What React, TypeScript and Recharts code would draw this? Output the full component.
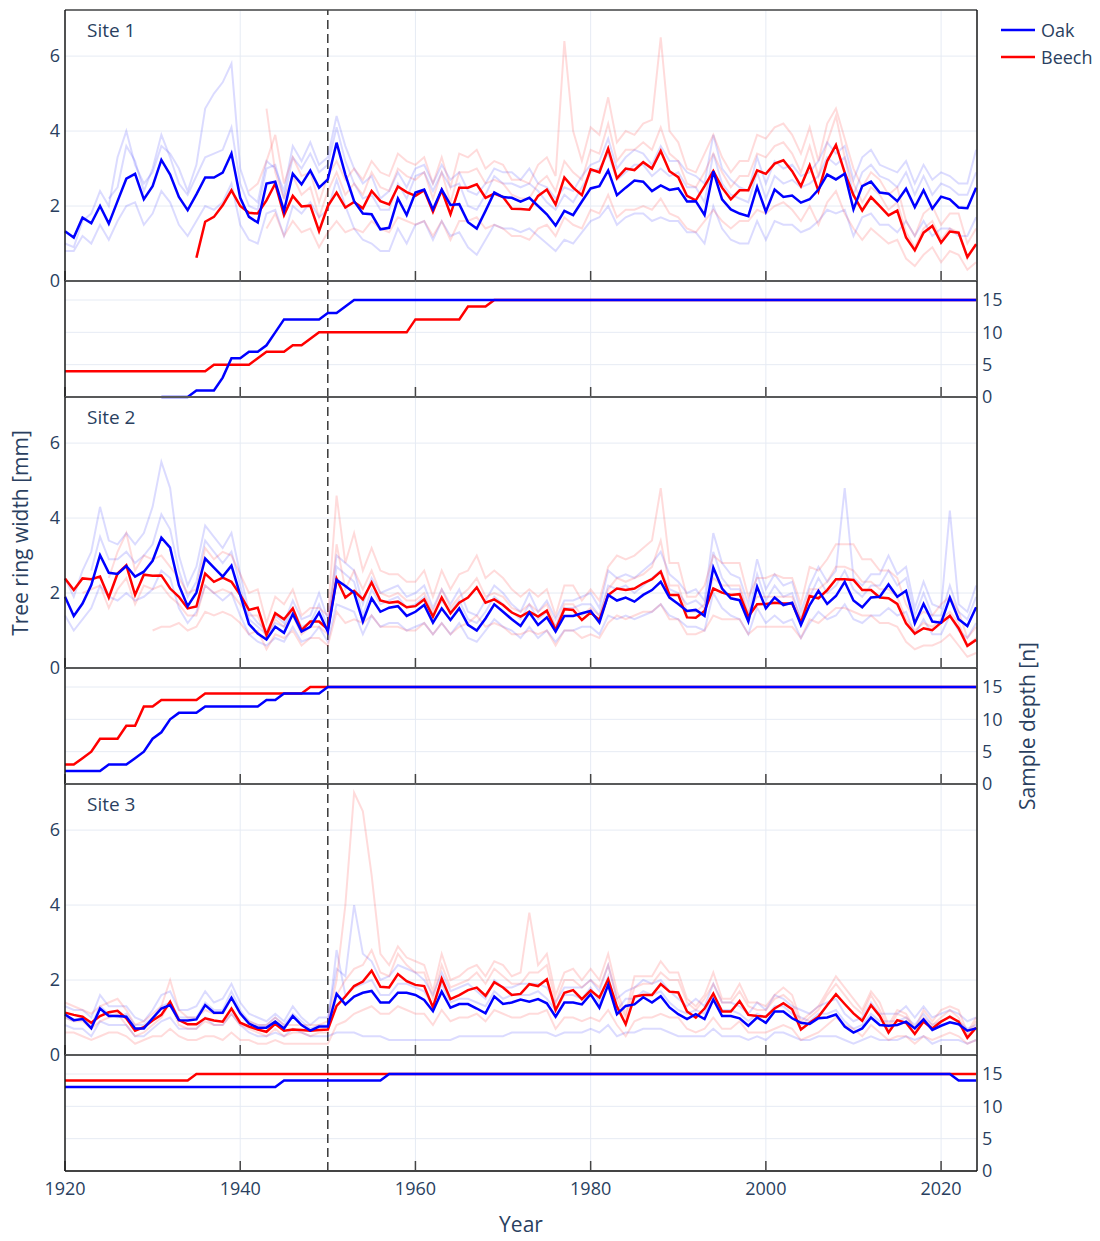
import React from "react";
import { LineChart, Line, XAxis, YAxis, CartesianGrid, ReferenceLine } from "recharts";

const N = null;

// ---------- categories / ticks ----------
const YEARS: number[] = [];
for (let y = 1920; y <= 2024; y++) YEARS.push(y);
const X_TICKS = [1920, 1940, 1960, 1980, 2000, 2020];
const RING_TICKS = [0, 2, 4, 6];
const DEPTH_TICKS = [0, 5, 10, 15];
const SPECIES = ["Oak", "Beech"];
const SITES = ["Site 1", "Site 2", "Site 3"];

// ---------- Site 1 ----------
const S1_OAK = [
  1.33, 1.16, 1.69, 1.54, 2.0, 1.53, 2.13, 2.73, 2.86, 2.18,
  2.53, 3.23, 2.84, 2.24, 1.89, 2.31, 2.76, 2.76, 2.89, 3.4,
  2.22, 1.71, 1.56, 2.6, 2.65, 1.87, 2.86, 2.58, 2.95, 2.49,
  2.71, 3.69, 2.84, 2.13, 1.8, 1.78, 1.38, 1.42, 2.2, 1.76,
  2.36, 2.44, 1.91, 2.44, 2.03, 2.05, 1.57, 1.4, 1.87, 2.36,
  2.24, 2.22, 2.12, 2.22, 2.0, 1.78, 1.48, 1.87, 1.76, 2.12,
  2.47, 2.53, 2.95, 2.29, 2.49, 2.68, 2.65, 2.4, 2.55, 2.43,
  2.47, 2.12, 2.13, 1.76, 2.93, 2.18, 1.91, 1.8, 1.73, 2.51,
  1.85, 2.44, 2.24, 2.28, 2.09, 2.18, 2.44, 2.84, 2.71, 2.86,
  1.91, 2.53, 2.65, 2.36, 2.33, 2.13, 2.46, 1.97, 2.42, 1.93,
  2.25, 2.18, 1.96, 1.94, 2.49,
];
const S1_BEECH = [
  N, N, N, N, N, N, N, N, N, N,
  N, N, N, N, N, 0.62, 1.58, 1.71, 2.02, 2.42,
  2.0, 1.82, 1.8, 2.15, 2.6, 1.76, 2.27, 1.99, 2.01, 1.33,
  2.0, 2.36, 1.96, 2.11, 1.94, 2.4, 2.13, 2.04, 2.52, 2.37,
  2.27, 2.42, 1.85, 2.42, 1.78, 2.49, 2.49, 2.58, 2.22, 2.33,
  2.24, 1.93, 1.92, 1.9, 2.27, 2.44, 2.04, 2.76, 2.49, 2.29,
  2.98, 2.9, 3.53, 2.74, 3.0, 2.96, 3.17, 3.0, 3.47, 2.93,
  2.77, 2.27, 2.15, 2.53, 2.93, 2.49, 2.18, 2.42, 2.42, 2.95,
  2.86, 3.13, 3.22, 2.93, 2.53, 3.09, 2.4, 3.2, 3.63, 2.89,
  2.29, 1.88, 2.24, 2.0, 1.75, 1.88, 1.16, 0.82, 1.29, 1.47,
  1.02, 1.32, 1.29, 0.64, 0.98,
];
const S1_OAK_T1 = [
  1.0, 0.9, 1.6, 1.8, 2.4, 2.0, 3.3, 4.0, 3.1, 2.6,
  2.9, 3.6, 3.4, 3.0, 2.4, 3.1, 4.6, 5.0, 5.3, 5.8,
  3.0, 2.3, 2.1, 3.2, 3.0, 2.4, 3.6, 3.2, 3.7, 3.1,
  3.3, 4.4, 3.6, 3.0, 2.6, 2.8, 2.2, 2.4, 2.9, 2.5,
  3.0, 3.1, 2.6, 3.1, 2.7, 2.9, 2.4, 2.3, 2.6, 3.0,
  2.9, 2.9, 2.7, 3.0, 2.6, 2.5, 2.2, 2.5, 2.4, 2.8,
  3.1, 3.2, 3.8, 3.0, 3.3, 3.5, 3.4, 3.1, 3.6, 3.2,
  3.2, 2.9, 2.8, 2.6, 3.9, 3.0, 2.7, 2.5, 2.4, 3.3,
  2.6, 3.2, 3.0, 3.1, 2.8, 2.9, 3.2, 3.7, 3.4, 3.6,
  2.7, 3.3, 3.5, 3.1, 3.0, 2.9, 3.2, 2.6, 3.1, 2.7,
  2.9, 2.8, 2.6, 2.6, 3.5,
];
const S1_OAK_T2 = [
  0.8, 0.8, 1.2, 1.0, 1.5, 1.1, 1.6, 2.0, 2.1, 1.5,
  1.8, 2.4, 2.1, 1.5, 1.2, 1.6, 2.0, 1.9, 2.1, 2.6,
  1.5, 1.1, 1.0, 1.8, 1.9, 1.2, 2.0, 1.8, 2.1, 1.7,
  1.9, 2.7, 2.0, 1.4, 1.1, 1.0, 0.8, 0.8, 1.4, 1.0,
  1.5, 1.6, 1.1, 1.6, 1.2, 1.3, 0.9, 0.7, 1.1, 1.5,
  1.4, 1.4, 1.3, 1.4, 1.2, 1.0, 0.8, 1.1, 1.0, 1.3,
  1.6, 1.7, 2.0, 1.5, 1.7, 1.8, 1.8, 1.6, 1.7, 1.6,
  1.6, 1.3, 1.3, 1.0, 2.0, 1.4, 1.1, 1.0, 1.0, 1.6,
  1.1, 1.6, 1.5, 1.5, 1.3, 1.4, 1.6, 1.9, 1.8, 1.9,
  1.2, 1.7, 1.8, 1.5, 1.5, 1.3, 1.6, 1.2, 1.6, 1.2,
  1.4, 1.4, 1.2, 1.2, 1.7,
];
const S1_OAK_T3 = [
  N, N, N, N, N, 2.2, 2.5, 3.6, 3.2, 2.4,
  3.0, 3.9, 3.3, 2.6, 2.3, 2.8, 3.3, 3.4, 3.5, 4.1,
  2.6, 2.0, 1.9, 3.0, 3.1, 2.2, 3.3, 3.0, 3.4, 2.9,
  3.1, 4.1, 3.2, 2.6, 2.2, 2.3, 1.9, 1.9, 2.6, 2.2,
  2.8, 2.9, 2.4, 2.9, 2.5, 2.6, 2.0, 1.9, 2.3, 2.8,
  2.6, 2.6, 2.5, 2.6, 2.4, 2.1, 1.9, 2.3, 2.1, 2.5,
  2.9, 3.0, 3.4, 2.7, 2.9, 3.1, 3.1, 2.8, 3.0, 2.8,
  2.9, 2.5, 2.5, 2.1, 3.4, 2.6, 2.3, 2.2, 2.1, 2.9,
  2.2, 2.8, 2.6, 2.7, 2.5, 2.6, 2.8, 3.3, 3.1, 3.3,
  2.3, 2.9, 3.1, 2.8, 2.7, 2.5, 2.9, 2.3, 2.8, 2.3,
  2.6, 2.5, 2.3, 2.3, 2.9,
];
const S1_BEECH_T1 = [
  N, N, N, N, N, N, N, N, N, N,
  N, N, N, N, N, N, N, N, N, N,
  N, 2.4, 2.6, 3.2, 3.9, 2.6, 3.3, 2.8, 2.9, 2.1,
  2.8, 3.2, 2.7, 3.0, 2.7, 3.2, 2.9, 2.8, 3.4, 3.2,
  3.1, 3.3, 2.6, 3.3, 2.5, 3.4, 3.3, 3.5, 3.0, 3.2,
  3.1, 2.7, 2.7, 2.6, 3.1, 3.3, 2.8, 6.4, 4.0, 3.2,
  4.1, 3.9, 4.9, 3.7, 4.0, 3.9, 4.2, 4.3, 6.5, 4.0,
  3.7, 3.0, 2.9, 3.4, 3.9, 3.3, 2.9, 3.2, 3.2, 3.9,
  3.8, 4.1, 4.2, 3.9, 3.4, 4.1, 3.2, 4.2, 4.6, 3.8,
  3.0, 2.5, 2.9, 2.7, 2.3, 2.5, 1.6, 1.2, 1.8, 2.0,
  1.5, 1.8, 1.8, 1.0, 1.4,
];
const S1_BEECH_T2 = [
  N, N, N, N, N, N, N, N, N, N,
  N, N, N, N, N, N, N, N, N, N,
  N, N, N, 1.4, 1.8, 1.2, 1.6, 1.3, 1.4, 0.9,
  1.3, 1.6, 1.3, 1.4, 1.3, 1.6, 1.4, 1.3, 1.7, 1.6,
  1.5, 1.6, 1.2, 1.6, 1.1, 1.6, 1.6, 1.7, 1.4, 1.5,
  1.4, 1.2, 1.2, 1.1, 1.4, 1.5, 1.2, 1.7, 1.5, 1.4,
  1.9, 1.8, 2.3, 1.7, 1.9, 1.9, 2.0, 1.9, 2.2, 1.8,
  1.7, 1.4, 1.3, 1.6, 1.9, 1.6, 1.4, 1.6, 1.6, 1.9,
  1.8, 2.0, 2.1, 1.9, 1.6, 2.0, 1.5, 2.1, 2.4, 1.8,
  1.4, 1.1, 1.4, 1.2, 1.0, 1.1, 0.6, 0.4, 0.7, 0.9,
  0.5, 0.8, 0.7, 0.3, 0.5,
];
const S1_BEECH_T3 = [
  N, N, N, N, N, N, N, N, N, N,
  N, N, N, N, N, N, N, N, N, N,
  N, N, N, 4.6, 2.9, 2.2, 2.8, 2.3, 2.5, 1.7,
  2.4, 2.9, 2.3, 2.6, 2.3, 2.9, 2.5, 2.4, 3.0, 2.8,
  2.7, 2.9, 2.2, 2.9, 2.1, 2.9, 2.9, 3.0, 2.6, 2.7,
  2.6, 2.3, 2.2, 2.2, 2.6, 2.8, 2.4, 3.2, 2.9, 2.7,
  3.5, 3.4, 4.2, 3.2, 3.5, 3.5, 3.7, 3.5, 4.1, 3.4,
  3.2, 2.6, 2.5, 2.9, 3.4, 2.9, 2.5, 2.8, 2.8, 3.4,
  3.3, 3.6, 3.7, 3.4, 2.9, 3.6, 2.8, 3.7, 4.4, 3.3,
  2.6, 2.1, 2.5, 2.3, 1.9, 2.1, 1.3, 0.9, 1.4, 1.6,
  1.1, 1.4, 1.3, 0.6, 1.0,
];
const S1_OAK_DEPTH = [
  N, N, N, N, N, N, N, N, N, N,
  N, 0, 0, 0, 0, 1, 1, 1, 3, 6,
  6, 7, 7, 8, 10, 12, 12, 12, 12, 12,
  13, 13, 14, 15, 15, 15, 15, 15, 15, 15,
  15, 15, 15, 15, 15, 15, 15, 15, 15, 15,
  15, 15, 15, 15, 15, 15, 15, 15, 15, 15,
  15, 15, 15, 15, 15, 15, 15, 15, 15, 15,
  15, 15, 15, 15, 15, 15, 15, 15, 15, 15,
  15, 15, 15, 15, 15, 15, 15, 15, 15, 15,
  15, 15, 15, 15, 15, 15, 15, 15, 15, 15,
  15, 15, 15, 15, 15,
];
const S1_BEECH_DEPTH = [
  4, 4, 4, 4, 4, 4, 4, 4, 4, 4,
  4, 4, 4, 4, 4, 4, 4, 5, 5, 5,
  5, 5, 6, 7, 7, 7, 8, 8, 9, 10,
  10, 10, 10, 10, 10, 10, 10, 10, 10, 10,
  12, 12, 12, 12, 12, 12, 14, 14, 14, 15,
  15, 15, 15, 15, 15, 15, 15, 15, 15, 15,
  15, 15, 15, 15, 15, 15, 15, 15, 15, 15,
  15, 15, 15, 15, 15, 15, 15, 15, 15, 15,
  15, 15, 15, 15, 15, 15, 15, 15, 15, 15,
  15, 15, 15, 15, 15, 15, 15, 15, 15, 15,
  15, 15, 15, 15, 15,
];

// ---------- Site 2 ----------
const S2_OAK = [
  1.9, 1.39, 1.72, 2.21, 3.01, 2.54, 2.51, 2.72, 2.44, 2.57,
  2.86, 3.48, 3.21, 2.21, 1.65, 2.01, 2.92, 2.68, 2.44, 2.73,
  1.95, 1.17, 0.92, 0.76, 1.1, 0.94, 1.44, 0.97, 1.1, 1.48,
  0.97, 2.35, 2.19, 2.01, 1.24, 1.86, 1.5, 1.61, 1.65, 1.39,
  1.5, 1.68, 1.21, 1.59, 1.28, 1.59, 1.15, 1.0, 1.32, 1.7,
  1.5, 1.3, 1.12, 1.48, 1.15, 1.35, 0.97, 1.39, 1.39, 1.46,
  1.52, 1.21, 1.95, 1.8, 1.88, 1.77, 1.95, 2.08, 2.3, 1.88,
  1.71, 1.52, 1.55, 1.39, 2.68, 2.12, 1.86, 1.81, 1.24, 2.17,
  1.59, 1.88, 1.68, 1.74, 1.15, 1.68, 2.06, 1.71, 1.92, 2.3,
  1.8, 1.62, 1.88, 1.9, 2.23, 1.9, 2.06, 1.19, 1.71, 1.24,
  1.21, 1.88, 1.3, 1.12, 1.62,
];
const S2_BEECH = [
  2.39, 2.08, 2.39, 2.37, 2.44, 1.88, 2.52, 2.74, 1.95, 2.49,
  2.46, 2.47, 2.12, 1.9, 1.59, 1.64, 2.52, 2.3, 2.41, 2.3,
  1.95, 1.55, 1.61, 0.88, 1.46, 1.3, 1.59, 1.01, 1.24, 1.24,
  1.03, 2.38, 1.88, 2.06, 1.83, 2.28, 1.8, 1.74, 1.77, 1.62,
  1.65, 1.83, 1.37, 1.88, 1.46, 1.74, 1.88, 2.15, 1.74, 1.83,
  1.68, 1.48, 1.37, 1.5, 1.37, 1.53, 1.01, 1.57, 1.55, 1.28,
  1.48, 1.28, 1.95, 2.12, 2.08, 2.12, 2.26, 2.37, 2.57, 1.95,
  1.95, 1.35, 1.34, 1.52, 2.12, 2.01, 1.95, 1.97, 1.37, 1.7,
  1.71, 1.74, 1.72, 1.72, 1.21, 1.92, 1.86, 2.08, 2.37, 2.37,
  2.35, 2.08, 2.08, 1.88, 1.86, 1.71, 1.19, 0.92, 1.06, 1.01,
  1.21, 1.39, 1.06, 0.59, 0.75,
];
const S2_OAK_T1 = [
  2.4, 1.9, 2.6, 3.1, 4.3, 3.4, 3.3, 3.6, 3.3, 3.6,
  4.3, 5.5, 4.8, 3.0, 2.2, 2.7, 3.8, 3.5, 3.2, 3.6,
  2.5, 1.5, 1.2, 1.0, 1.4, 1.2, 1.8, 1.3, 1.4, 2.0,
  1.3, 3.0, 2.8, 2.6, 1.7, 2.4, 2.0, 2.1, 2.2, 1.9,
  2.0, 2.2, 1.6, 2.1, 1.7, 2.1, 1.5, 1.4, 1.8, 2.2,
  2.0, 1.7, 1.5, 2.0, 1.5, 1.8, 1.3, 1.8, 1.8, 1.9,
  2.0, 1.6, 2.6, 2.4, 2.5, 2.4, 2.6, 2.8, 3.1, 2.5,
  2.3, 2.0, 2.1, 1.8, 3.6, 2.8, 2.5, 2.4, 1.7, 2.9,
  2.1, 2.5, 2.2, 2.3, 1.5, 2.2, 2.7, 2.3, 2.6, 4.8,
  2.4, 2.2, 2.5, 2.5, 3.0, 2.5, 2.7, 1.6, 2.3, 1.7,
  1.6, 4.2, 1.7, 1.5, 2.2,
];
const S2_OAK_T2 = [
  1.4, 1.0, 1.3, 1.6, 2.2, 1.9, 1.8, 2.0, 1.8, 1.9,
  2.1, 2.6, 2.4, 1.6, 1.2, 1.5, 2.2, 2.0, 1.8, 2.0,
  1.4, 0.9, 0.7, 0.6, 0.8, 0.7, 1.1, 0.7, 0.8, 1.1,
  0.7, 1.7, 1.6, 1.5, 0.9, 1.4, 1.1, 1.2, 1.2, 1.0,
  1.1, 1.2, 0.9, 1.2, 0.9, 1.2, 0.8, 0.7, 1.0, 1.3,
  1.1, 1.0, 0.8, 1.1, 0.8, 1.0, 0.7, 1.0, 1.0, 1.1,
  1.1, 0.9, 1.4, 1.3, 1.4, 1.3, 1.4, 1.5, 1.7, 1.4,
  1.3, 1.1, 1.1, 1.0, 2.0, 1.6, 1.4, 1.3, 0.9, 1.6,
  1.2, 1.4, 1.2, 1.3, 0.8, 1.2, 1.5, 1.3, 1.4, 1.7,
  1.3, 1.2, 1.4, 1.4, 1.6, 1.4, 1.5, 0.9, 1.3, 0.9,
  0.9, 1.4, 1.0, 0.8, 1.2,
];
const S2_OAK_T3 = [
  N, N, N, 2.6, 3.5, 2.9, 2.9, 3.1, 2.8, 3.0,
  3.3, 4.1, 3.7, 2.6, 1.9, 2.3, 3.4, 3.1, 2.8, 3.1,
  2.2, 1.3, 1.1, 0.9, 1.2, 1.1, 1.6, 1.1, 1.2, 1.7,
  1.1, 2.7, 2.5, 2.3, 1.4, 2.1, 1.7, 1.8, 1.9, 1.6,
  1.7, 1.9, 1.4, 1.8, 1.5, 1.8, 1.3, 1.2, 1.5, 1.9,
  1.7, 1.5, 1.3, 1.7, 1.3, 1.5, 1.1, 1.6, 1.6, 1.7,
  1.7, 1.4, 2.2, 2.1, 2.2, 2.0, 2.2, 2.4, 2.6, 2.1,
  2.0, 1.7, 1.8, 1.6, 3.1, 2.4, 2.1, 2.1, 1.4, 2.5,
  1.8, 2.2, 1.9, 2.0, 1.3, 1.9, 2.4, 2.0, 2.2, 2.6,
  2.1, 1.9, 2.2, 2.2, 2.6, 2.2, 2.4, 1.4, 2.0, 1.4,
  1.4, 2.2, 1.5, 1.3, 1.9,
];
const S2_BEECH_T1 = [
  N, N, N, N, N, 2.4, 3.1, 3.6, 2.6, 3.0,
  2.9, 3.0, 2.7, 2.4, 2.0, 2.1, 3.2, 2.9, 3.1, 3.0,
  2.5, 2.0, 2.1, 1.2, 1.9, 1.7, 2.1, 1.4, 1.6, 1.6,
  1.4, 4.6, 2.8, 3.6, 2.6, 3.2, 2.6, 2.5, 2.5, 2.3,
  2.3, 2.6, 1.9, 2.6, 2.1, 2.5, 2.6, 3.0, 2.4, 2.6,
  2.4, 2.1, 1.9, 2.1, 1.9, 2.1, 1.4, 2.2, 2.2, 1.8,
  2.1, 1.8, 2.7, 3.0, 2.9, 3.0, 3.2, 3.4, 4.8, 2.8,
  2.8, 1.9, 1.9, 2.2, 3.0, 2.8, 2.8, 2.8, 1.9, 2.4,
  2.4, 2.5, 2.4, 2.4, 1.7, 2.7, 2.6, 2.9, 3.3, 3.3,
  3.3, 2.9, 2.9, 2.6, 2.6, 2.4, 1.7, 1.3, 1.5, 1.4,
  1.7, 1.9, 1.5, 0.8, 1.1,
];
const S2_BEECH_T2 = [
  N, N, N, N, N, N, N, N, N, N,
  1.0, 1.1, 1.1, 1.2, 1.0, 1.1, 1.5, 1.4, 1.5, 1.4,
  1.2, 0.9, 1.0, 0.5, 0.9, 0.8, 1.0, 0.6, 0.8, 0.8,
  0.6, 1.5, 1.2, 1.3, 1.2, 1.4, 1.1, 1.1, 1.1, 1.0,
  1.0, 1.2, 0.9, 1.2, 0.9, 1.1, 1.2, 1.4, 1.1, 1.2,
  1.1, 0.9, 0.9, 1.0, 0.9, 1.0, 0.6, 1.0, 1.0, 0.8,
  0.9, 0.8, 1.2, 1.4, 1.3, 1.4, 1.5, 1.5, 1.7, 1.3,
  1.3, 0.9, 0.9, 1.0, 1.4, 1.3, 1.3, 1.3, 0.9, 1.1,
  1.1, 1.1, 1.1, 1.1, 0.8, 1.3, 1.2, 1.4, 1.6, 1.6,
  1.5, 1.4, 1.4, 1.2, 1.2, 1.1, 0.7, 0.5, 0.6, 0.6,
  0.7, 0.9, 0.6, 0.3, 0.4,
];
const S2_BEECH_T3 = [
  N, N, 2.0, 2.1, 2.2, 1.6, 2.1, 2.4, 1.7, 2.2,
  2.1, 2.2, 1.9, 1.7, 1.4, 1.4, 2.2, 2.0, 2.1, 2.0,
  1.7, 1.4, 1.4, 0.8, 1.3, 1.1, 1.4, 0.9, 1.1, 1.1,
  0.9, 3.3, 2.1, 2.6, 2.1, 2.6, 2.0, 1.9, 2.0, 1.8,
  1.8, 2.0, 1.5, 2.1, 1.6, 1.9, 2.1, 2.4, 1.9, 2.0,
  1.9, 1.6, 1.5, 1.7, 1.5, 1.7, 1.1, 1.7, 1.7, 1.4,
  1.6, 1.4, 2.1, 2.4, 2.3, 2.4, 2.5, 2.7, 3.4, 2.2,
  2.2, 1.5, 1.5, 1.7, 2.4, 2.2, 2.2, 2.2, 1.5, 1.9,
  1.9, 1.9, 1.9, 1.9, 1.3, 2.1, 2.1, 2.3, 2.7, 2.7,
  2.6, 2.3, 2.3, 2.1, 2.1, 1.9, 1.3, 1.0, 1.2, 1.1,
  1.3, 1.5, 1.2, 0.6, 0.8,
];
const S2_OAK_DEPTH = [
  2, 2, 2, 2, 2, 3, 3, 3, 4, 5,
  7, 8, 10, 11, 11, 11, 12, 12, 12, 12,
  12, 12, 12, 13, 13, 14, 14, 14, 14, 14,
  15, 15, 15, 15, 15, 15, 15, 15, 15, 15,
  15, 15, 15, 15, 15, 15, 15, 15, 15, 15,
  15, 15, 15, 15, 15, 15, 15, 15, 15, 15,
  15, 15, 15, 15, 15, 15, 15, 15, 15, 15,
  15, 15, 15, 15, 15, 15, 15, 15, 15, 15,
  15, 15, 15, 15, 15, 15, 15, 15, 15, 15,
  15, 15, 15, 15, 15, 15, 15, 15, 15, 15,
  15, 15, 15, 15, 15,
];
const S2_BEECH_DEPTH = [
  3, 3, 4, 5, 7, 7, 7, 9, 9, 12,
  12, 13, 13, 13, 13, 13, 14, 14, 14, 14,
  14, 14, 14, 14, 14, 14, 14, 14, 15, 15,
  15, 15, 15, 15, 15, 15, 15, 15, 15, 15,
  15, 15, 15, 15, 15, 15, 15, 15, 15, 15,
  15, 15, 15, 15, 15, 15, 15, 15, 15, 15,
  15, 15, 15, 15, 15, 15, 15, 15, 15, 15,
  15, 15, 15, 15, 15, 15, 15, 15, 15, 15,
  15, 15, 15, 15, 15, 15, 15, 15, 15, 15,
  15, 15, 15, 15, 15, 15, 15, 15, 15, 15,
  15, 15, 15, 15, 15,
];

// ---------- Site 3 ----------
const S3_OAK = [
  1.08, 0.93, 0.96, 0.71, 1.24, 1.04, 1.04, 1.02, 0.71, 0.71,
  0.98, 1.24, 1.33, 0.93, 0.92, 0.95, 1.33, 1.13, 1.13, 1.53,
  1.11, 0.84, 0.73, 0.73, 0.89, 0.71, 1.04, 0.8, 0.65, 0.76,
  0.76, 1.63, 1.35, 1.56, 1.66, 1.71, 1.4, 1.4, 1.66, 1.66,
  1.6, 1.47, 1.17, 1.69, 1.26, 1.36, 1.36, 1.24, 1.11, 1.56,
  1.36, 1.4, 1.48, 1.42, 1.49, 1.38, 1.02, 1.4, 1.4, 1.35,
  1.62, 1.26, 1.87, 1.09, 1.31, 1.35, 1.54, 1.4, 1.57, 1.27,
  1.09, 0.96, 1.09, 0.96, 1.48, 1.04, 1.04, 0.98, 0.78, 1.0,
  0.86, 1.16, 1.16, 0.98, 0.86, 0.83, 0.98, 1.0, 1.08, 0.76,
  0.6, 0.71, 1.0, 0.8, 0.78, 0.8, 0.89, 0.71, 0.95, 0.67,
  0.78, 0.87, 0.82, 0.65, 0.71,
];
const S3_BEECH = [
  1.13, 1.07, 1.02, 0.86, 1.04, 1.14, 1.18, 0.98, 0.65, 0.74,
  0.92, 1.07, 1.42, 0.93, 0.82, 0.82, 0.98, 0.92, 0.89, 1.24,
  0.86, 0.76, 0.68, 0.62, 0.83, 0.65, 0.68, 0.67, 0.65, 0.67,
  0.68, 1.31, 1.56, 1.84, 1.96, 2.25, 1.82, 1.8, 2.16, 1.97,
  1.87, 1.84, 1.27, 2.04, 1.49, 1.6, 1.73, 1.8, 1.58, 1.94,
  1.8, 1.6, 1.63, 1.89, 1.84, 2.02, 1.2, 1.66, 1.73, 1.49,
  1.72, 1.53, 2.02, 1.29, 0.82, 1.56, 1.6, 1.6, 1.89, 1.69,
  1.67, 1.16, 1.0, 1.24, 1.64, 1.16, 1.16, 1.44, 1.07, 1.04,
  1.02, 1.24, 1.38, 1.22, 0.68, 0.86, 1.02, 1.33, 1.62, 1.36,
  1.11, 0.91, 1.33, 1.04, 0.6, 0.93, 0.86, 0.56, 0.89, 0.71,
  0.89, 1.02, 0.89, 0.46, 0.73,
];
const S3_OAK_T1 = [
  1.3, 1.2, 1.2, 1.0, 1.6, 1.3, 1.3, 1.3, 1.0, 0.9,
  1.2, 1.6, 1.7, 1.2, 1.2, 1.3, 1.7, 1.4, 1.5, 1.9,
  1.4, 1.1, 1.0, 0.9, 1.1, 0.9, 1.3, 1.0, 0.8, 1.0,
  1.0, 2.3, 2.1, 4.0, 2.7, 2.5, 2.0, 2.1, 2.4, 2.3,
  2.2, 2.0, 1.6, 2.2, 1.7, 1.8, 1.9, 1.7, 1.5, 2.0,
  1.8, 1.8, 1.9, 1.9, 1.9, 1.8, 1.4, 1.8, 1.8, 1.8,
  2.0, 1.7, 2.4, 1.5, 1.7, 1.8, 2.0, 1.9, 2.0, 1.7,
  1.5, 1.3, 1.5, 1.3, 1.9, 1.4, 1.4, 1.3, 1.1, 1.4,
  1.2, 1.6, 1.5, 1.3, 1.2, 1.1, 1.3, 1.4, 1.5, 1.1,
  0.9, 1.0, 1.4, 1.1, 1.1, 1.1, 1.3, 1.0, 1.3, 1.0,
  1.1, 1.2, 1.1, 0.9, 1.0,
];
const S3_OAK_T2 = [
  0.8, 0.7, 0.7, 0.5, 0.9, 0.8, 0.8, 0.8, 0.5, 0.5,
  0.7, 0.9, 1.0, 0.7, 0.7, 0.7, 1.0, 0.8, 0.8, 1.1,
  0.8, 0.6, 0.5, 0.5, 0.6, 0.5, 0.7, 0.6, 0.5, 0.5,
  0.5, 0.6, 0.6, 0.6, 0.5, 0.5, 0.5, 0.4, 0.4, 0.4,
  0.4, 0.4, 0.4, 0.4, 0.4, 0.5, 0.5, 0.5, 0.5, 0.5,
  0.5, 0.6, 0.6, 0.6, 0.6, 0.6, 0.5, 0.6, 0.6, 0.6,
  0.7, 0.6, 0.8, 0.5, 0.6, 0.6, 0.7, 0.7, 0.7, 0.6,
  0.5, 0.5, 0.5, 0.5, 0.7, 0.5, 0.5, 0.5, 0.4, 0.5,
  0.4, 0.6, 0.6, 0.5, 0.4, 0.4, 0.5, 0.5, 0.5, 0.4,
  0.3, 0.4, 0.5, 0.4, 0.4, 0.4, 0.5, 0.4, 0.5, 0.3,
  0.4, 0.4, 0.4, 0.3, 0.4,
];
const S3_OAK_T3 = [
  1.0, 0.9, 1.0, 0.8, 1.3, 1.1, 1.0, 1.1, 0.8, 0.8,
  1.0, 1.3, 1.4, 1.0, 1.0, 1.0, 1.4, 1.2, 1.2, 1.7,
  1.2, 0.9, 0.8, 0.8, 1.0, 0.8, 1.1, 0.9, 0.7, 0.8,
  0.8, 2.8, 1.6, 1.8, 1.9, 2.0, 1.6, 1.6, 1.9, 1.9,
  1.8, 1.7, 1.3, 1.9, 1.4, 1.5, 1.5, 1.4, 1.3, 1.7,
  1.5, 1.6, 1.6, 1.6, 1.7, 1.5, 1.2, 1.6, 1.6, 1.5,
  1.8, 1.4, 2.1, 1.2, 1.5, 1.5, 1.7, 1.6, 1.7, 1.4,
  1.2, 1.1, 1.2, 1.1, 1.6, 1.2, 1.2, 1.1, 0.9, 1.1,
  1.0, 1.3, 1.3, 1.1, 1.0, 0.9, 1.1, 1.1, 1.2, 0.9,
  0.7, 0.8, 1.1, 0.9, 0.9, 0.9, 1.0, 0.8, 1.1, 0.8,
  0.9, 1.0, 0.9, 0.7, 0.8,
];
const S3_BEECH_T1 = [
  1.4, 1.3, 1.2, 1.1, 1.3, 1.4, 1.5, 1.2, 0.8, 0.9,
  1.1, 1.3, 2.0, 1.2, 1.0, 1.0, 1.2, 1.1, 1.1, 1.5,
  1.1, 0.9, 0.8, 0.8, 1.0, 0.8, 0.8, 0.8, 0.8, 0.8,
  0.9, 2.0, 4.0, 7.0, 6.5, 4.8, 2.7, 2.4, 2.9, 2.6,
  2.5, 2.4, 1.7, 2.7, 2.0, 2.1, 2.3, 2.4, 2.1, 2.5,
  2.4, 2.1, 2.2, 3.8, 2.4, 2.7, 1.6, 2.2, 2.3, 2.0,
  2.3, 2.0, 2.7, 1.7, 1.1, 2.1, 2.1, 2.1, 2.5, 2.2,
  2.2, 1.5, 1.3, 1.6, 2.2, 1.5, 1.5, 1.9, 1.4, 1.4,
  1.3, 1.6, 1.8, 1.6, 0.9, 1.1, 1.3, 1.7, 2.1, 1.8,
  1.5, 1.2, 1.7, 1.4, 0.8, 1.2, 1.1, 0.7, 1.2, 0.9,
  1.2, 1.3, 1.2, 0.6, 1.0,
];
const S3_BEECH_T2 = [
  0.6, 0.6, 0.5, 0.4, 0.5, 0.6, 0.6, 0.5, 0.3, 0.4,
  0.5, 0.5, 0.7, 0.5, 0.4, 0.4, 0.5, 0.5, 0.4, 0.6,
  0.4, 0.4, 0.3, 0.3, 0.4, 0.3, 0.3, 0.3, 0.3, 0.3,
  0.3, 0.8, 0.9, 1.1, 1.2, 1.3, 1.1, 1.1, 1.3, 1.2,
  1.1, 1.1, 0.8, 1.2, 0.9, 1.0, 1.0, 1.1, 0.9, 1.2,
  1.1, 1.0, 1.0, 1.1, 1.1, 1.2, 0.7, 1.0, 1.0, 0.9,
  1.0, 0.9, 1.2, 0.8, 0.5, 0.9, 1.0, 1.0, 1.1, 1.0,
  1.0, 0.7, 0.6, 0.7, 1.0, 0.7, 0.7, 0.9, 0.6, 0.6,
  0.6, 0.7, 0.8, 0.7, 0.4, 0.5, 0.6, 0.8, 1.0, 0.8,
  0.7, 0.5, 0.8, 0.6, 0.4, 0.5, 0.5, 0.3, 0.5, 0.4,
  0.5, 0.6, 0.5, 0.3, 0.4,
];
const S3_BEECH_T3 = [
  1.0, 0.9, 0.9, 0.7, 0.9, 1.0, 1.1, 0.8, 0.5, 0.6,
  0.8, 1.0, 1.4, 0.8, 0.7, 0.7, 0.9, 0.8, 0.8, 1.1,
  0.8, 0.7, 0.6, 0.5, 0.7, 0.5, 0.6, 0.6, 0.5, 0.6,
  0.6, 1.6, 2.0, 2.3, 2.4, 2.8, 2.2, 2.1, 2.7, 2.4,
  2.2, 2.2, 1.5, 2.4, 1.8, 1.9, 2.0, 2.2, 1.9, 2.3,
  2.1, 1.9, 1.9, 2.2, 2.2, 2.4, 1.4, 2.0, 2.0, 1.8,
  2.0, 1.8, 2.4, 1.5, 1.0, 1.8, 1.9, 1.9, 2.2, 2.0,
  2.0, 1.4, 1.2, 1.5, 1.9, 1.4, 1.4, 1.7, 1.3, 1.2,
  1.2, 1.5, 1.6, 1.4, 0.8, 1.0, 1.2, 1.6, 1.9, 1.6,
  1.3, 1.1, 1.6, 1.2, 0.7, 1.1, 1.0, 0.7, 1.0, 0.8,
  1.0, 1.2, 1.0, 0.5, 0.9,
];
const S3_OAK_DEPTH = [
  13, 13, 13, 13, 13, 13, 13, 13, 13, 13,
  13, 13, 13, 13, 13, 13, 13, 13, 13, 13,
  13, 13, 13, 13, 13, 14, 14, 14, 14, 14,
  14, 14, 14, 14, 14, 14, 14, 15, 15, 15,
  15, 15, 15, 15, 15, 15, 15, 15, 15, 15,
  15, 15, 15, 15, 15, 15, 15, 15, 15, 15,
  15, 15, 15, 15, 15, 15, 15, 15, 15, 15,
  15, 15, 15, 15, 15, 15, 15, 15, 15, 15,
  15, 15, 15, 15, 15, 15, 15, 15, 15, 15,
  15, 15, 15, 15, 15, 15, 15, 15, 15, 15,
  15, 15, 14, 14, 14,
];
const S3_BEECH_DEPTH = [
  14, 14, 14, 14, 14, 14, 14, 14, 14, 14,
  14, 14, 14, 14, 14, 15, 15, 15, 15, 15,
  15, 15, 15, 15, 15, 15, 15, 15, 15, 15,
  15, 15, 15, 15, 15, 15, 15, 15, 15, 15,
  15, 15, 15, 15, 15, 15, 15, 15, 15, 15,
  15, 15, 15, 15, 15, 15, 15, 15, 15, 15,
  15, 15, 15, 15, 15, 15, 15, 15, 15, 15,
  15, 15, 15, 15, 15, 15, 15, 15, 15, 15,
  15, 15, 15, 15, 15, 15, 15, 15, 15, 15,
  15, 15, 15, 15, 15, 15, 15, 15, 15, 15,
  15, 15, 15, 15, 15,
];

// ---------- styling ----------
const FONT = "'Open Sans', 'Noto Sans', sans-serif";
const TXT = "#2a3f5f";
const GRID = "#e6ebf4";
const XAXIS = "#444444";
const YAXIS = "#1a1a1a";
const BLUE = "#0000ff";
const RED = "#ff0000";
const X_DOMAIN: [number, number] = [1920, 2024.1];
const RING_DOMAIN: [number, number] = [0, 7.23];
const DEPTH_DOMAIN: [number, number] = [0, 17.94];
const MAIN_H = 271;
const DEPTH_H = 116;

type Row = Record<string, number | null>;

function ringRows(oak: any[], beech: any[], oakT: any[][], beechT: any[][]): Row[] {
  return YEARS.map((year, i) => {
    const r: Row = { year, oak: oak[i], beech: beech[i] };
    oakT.forEach((t, k) => (r["o" + k] = t[i]));
    beechT.forEach((t, k) => (r["b" + k] = t[i]));
    return r;
  });
}
function depthRows(oak: any[], beech: any[]): Row[] {
  return YEARS.map((year, i) => ({ year, oak: oak[i], beech: beech[i] }));
}

const SITE_DATA = [
  {
    ring: ringRows(S1_OAK, S1_BEECH, [S1_OAK_T1, S1_OAK_T2, S1_OAK_T3], [S1_BEECH_T1, S1_BEECH_T2, S1_BEECH_T3]),
    depth: depthRows(S1_OAK_DEPTH, S1_BEECH_DEPTH),
  },
  {
    ring: ringRows(S2_OAK, S2_BEECH, [S2_OAK_T1, S2_OAK_T2, S2_OAK_T3], [S2_BEECH_T1, S2_BEECH_T2, S2_BEECH_T3]),
    depth: depthRows(S2_OAK_DEPTH, S2_BEECH_DEPTH),
  },
  {
    ring: ringRows(S3_OAK, S3_BEECH, [S3_OAK_T1, S3_OAK_T2, S3_OAK_T3], [S3_BEECH_T1, S3_BEECH_T2, S3_BEECH_T3]),
    depth: depthRows(S3_OAK_DEPTH, S3_BEECH_DEPTH),
  },
];

const tickStyle = { fill: TXT, fontSize: 18, fontFamily: FONT };

function Panel(props: { top: number; kind: "ring" | "depth"; data: Row[]; showX?: boolean }) {
  const { top, kind, data, showX } = props;
  const plotH = kind === "ring" ? MAIN_H : DEPTH_H;
  const bottomH = showX ? 60 : 1;
  const h = plotH + 1 + bottomH;
  const domain = kind === "ring" ? RING_DOMAIN : DEPTH_DOMAIN;
  const yt = kind === "ring" ? RING_TICKS : DEPTH_TICKS;
  // the axis that carries labels also carries the series and the grid
  const dataAxis = kind === "ring" ? "l" : "r";
  return (
    <div style={{ position: "absolute", left: 0, top: top - 1, width: 1100, height: h }}>
      <LineChart width={1100} height={h} data={data} margin={{ top: 0, right: 0, bottom: 0, left: 0 }}>
        <XAxis
          xAxisId="b"
          dataKey="year"
          type="number"
          domain={X_DOMAIN}
          ticks={X_TICKS}
          interval={0}
          height={bottomH}
          axisLine={{ stroke: XAXIS, strokeWidth: 2 }}
          tickLine={{ stroke: XAXIS, strokeWidth: 1.5 }}
          tickSize={-10}
          tickMargin={21}
          tick={showX ? tickStyle : { ...tickStyle, fill: "none", fontSize: 1 }}
        />
        <XAxis
          xAxisId="t"
          orientation="top"
          dataKey="year"
          type="number"
          domain={X_DOMAIN}
          ticks={X_TICKS}
          height={1}
          axisLine={{ stroke: XAXIS, strokeWidth: 1.5 }}
          tickLine={false}
          tick={false}
        />
        <YAxis
          yAxisId="l"
          orientation="left"
          width={65}
          type="number"
          domain={domain}
          ticks={yt}
          interval={0}
          axisLine={{ stroke: YAXIS, strokeWidth: 1.5 }}
          tickLine={false}
          tickSize={0}
          tickMargin={5}
          tick={kind === "ring" ? tickStyle : false}
        />
        <YAxis
          yAxisId="r"
          orientation="right"
          width={123}
          type="number"
          domain={domain}
          ticks={yt}
          interval={0}
          axisLine={{ stroke: YAXIS, strokeWidth: 1.5 }}
          tickLine={false}
          tickSize={0}
          tickMargin={5}
          tick={kind === "depth" ? tickStyle : false}
        />
        <CartesianGrid xAxisId="b" yAxisId={dataAxis} stroke={GRID} strokeWidth={1} />
        <ReferenceLine xAxisId="b" yAxisId={dataAxis} x={1950} stroke="#1a1a1a" strokeWidth={1.3} strokeDasharray="9 5" />
        {kind === "ring" &&
          [0, 1, 2].map((k) => (
            <Line
              key={"o" + k}
              xAxisId="b"
              yAxisId={dataAxis}
              dataKey={"o" + k}
              stroke={BLUE}
              strokeOpacity={0.14}
              strokeWidth={2}
              dot={false}
              activeDot={false}
              isAnimationActive={false}
            />
          ))}
        {kind === "ring" &&
          [0, 1, 2].map((k) => (
            <Line
              key={"b" + k}
              xAxisId="b"
              yAxisId={dataAxis}
              dataKey={"b" + k}
              stroke={RED}
              strokeOpacity={0.14}
              strokeWidth={2}
              dot={false}
              activeDot={false}
              isAnimationActive={false}
            />
          ))}
        <Line xAxisId="b" yAxisId={dataAxis} dataKey="beech" name={SPECIES[1]} stroke={RED} strokeWidth={2.5} dot={false} activeDot={false} isAnimationActive={false} />
        <Line xAxisId="b" yAxisId={dataAxis} dataKey="oak" name={SPECIES[0]} stroke={BLUE} strokeWidth={2.5} dot={false} activeDot={false} isAnimationActive={false} />
      </LineChart>
    </div>
  );
}

const textBase: React.CSSProperties = { position: "absolute", color: TXT, fontFamily: FONT, whiteSpace: "nowrap" };

export default function App() {
  const panelTops = [10, 397, 784];
  return (
    <div style={{ position: "absolute", left: 0, top: 0, width: 1100, height: 1241, background: "#fff", fontFamily: FONT }}>
      <style>{`.recharts-surface{overflow:visible}`}</style>
      {SITE_DATA.map((s, i) => (
        <React.Fragment key={i}>
          <Panel top={panelTops[i]} kind="ring" data={s.ring} />
          <Panel top={panelTops[i] + MAIN_H} kind="depth" data={s.depth} showX={i === 2} />
          <div style={{ ...textBase, left: 87, top: panelTops[i] + 8, fontSize: 19, lineHeight: "24px" }}>{SITES[i]}</div>
        </React.Fragment>
      ))}
      {/* legend */}
      {SPECIES.map((sp, i) => (
        <div key={sp} style={{ position: "absolute", left: 1000, top: 19 + i * 27, height: 22, display: "flex", alignItems: "center" }}>
          <svg width={36} height={22} style={{ display: "block" }}>
            <line x1={1} y1={11} x2={35} y2={11} stroke={i === 0 ? BLUE : RED} strokeWidth={2.5} />
          </svg>
          <span style={{ marginLeft: 5, color: TXT, fontFamily: FONT, fontSize: 18, lineHeight: "22px" }}>{sp}</span>
        </div>
      ))}
      {/* axis titles */}
      <div style={{ ...textBase, left: 20, top: 533, fontSize: 21, transform: "translate(-50%, -50%) rotate(-90deg)" }}>
        Tree ring width [mm]
      </div>
      <div style={{ ...textBase, left: 1027, top: 726, fontSize: 21, transform: "translate(-50%, -50%) rotate(-90deg)" }}>
        Sample depth [n]
      </div>
      <div style={{ ...textBase, left: 521, top: 1224, fontSize: 21, transform: "translate(-50%, -50%)" }}>Year</div>
    </div>
  );
}
